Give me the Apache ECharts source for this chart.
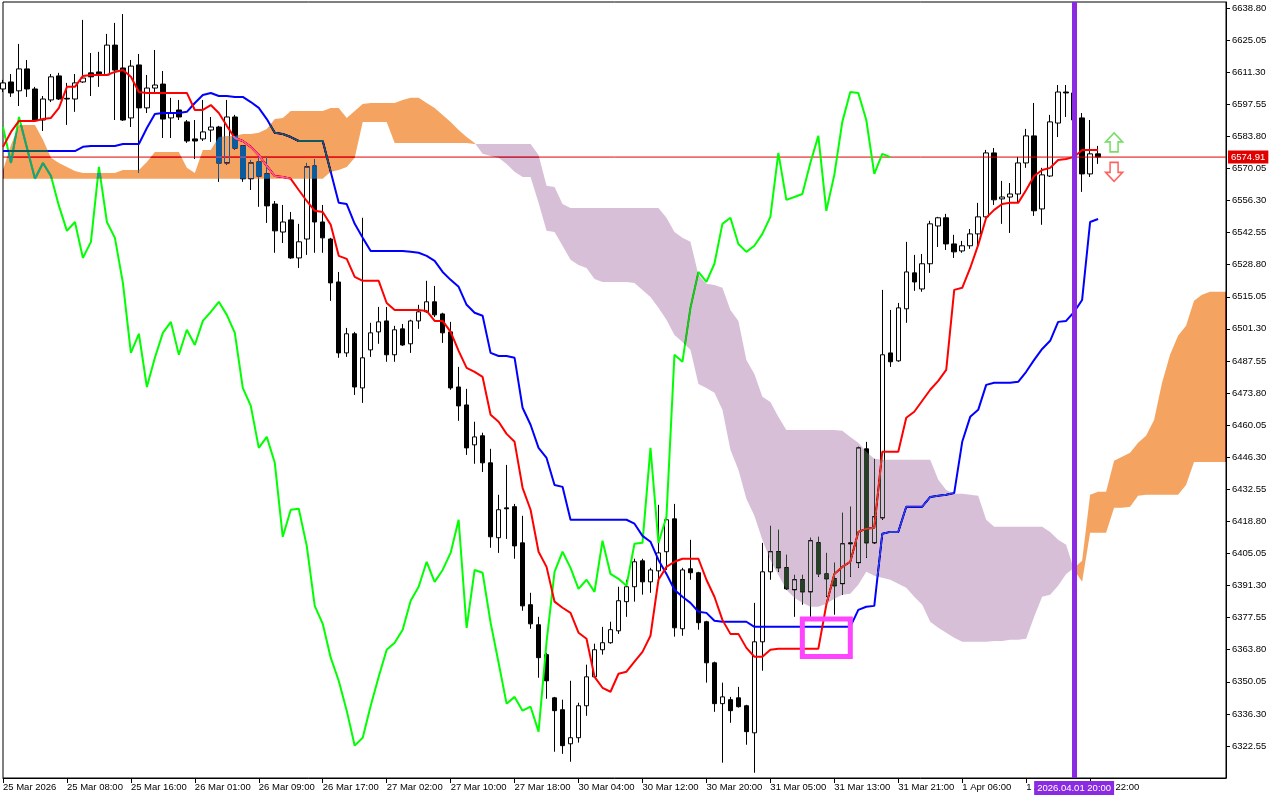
<!DOCTYPE html>
<html><head><meta charset="utf-8">
<script src="https://cdn.jsdelivr.net/npm/echarts@6/dist/echarts.min.js"></script>
<style>html,body{margin:0;padding:0;background:#fff}#chart{width:1280px;height:800px}</style>
</head><body><div id="chart"></div>
<script>
const FONT = 'Liberation Sans, Arial, sans-serif';
const barCount = 154;
const tickLabels = ['25 Mar 2026','25 Mar 08:00','25 Mar 16:00','26 Mar 01:00','26 Mar 09:00','26 Mar 17:00',
  '27 Mar 02:00','27 Mar 10:00','27 Mar 18:00','30 Mar 04:00','30 Mar 12:00','30 Mar 20:00','31 Mar 05:00',
  '31 Mar 13:00','31 Mar 21:00','1 Apr 06:00','1 Apr 14:00','1 Apr 22:00'];
const yTickValues = [6322.55,6336.30,6350.05,6363.80,6377.55,6391.30,6405.05,6418.80,6432.55,6446.30,6460.05,
  6473.80,6487.55,6501.30,6515.05,6528.80,6542.55,6556.30,6570.05,6583.80,6597.55,6611.30,6625.05,6638.80];
const lastPrice = 6574.91;
const markedBar = 134;
const markedBarLabel = '2026.04.01 20:00';
const boxCorners = [[100, 6377.0], [106, 6360.9]];
const upArrow = [139, 6581.2];
const downArrow = [139, 6568.6];

const opens = [6604.1,6607.1,6603.3,6612.7,6604.1,6590.8,6599.4,6609.7,6600.1,6599.8,
6607.1,6611.0,6611.4,6610.1,6622.9,6613.1,6591.7,6614.4,6596.0,6604.5,
6606.2,6591.7,6595.1,6590.0,6582.7,6582.7,6586.5,6587.8,6572.4,6592.1,
6579.7,6565.6,6572.8,6567.7,6554.8,6542.8,6548.0,6531.7,6539.8,6571.1,
6547.1,6539.8,6521.4,6491.0,6499.2,6476.0,6492.3,6500.0,6504.7,6490.2,
6501.3,6494.9,6504.7,6508.6,6512.9,6507.7,6500.0,6476.4,6468.7,6451.6,
6455.5,6443.9,6411.8,6424.6,6425.1,6409.6,6383.1,6374.5,6361.7,6343.2,
6338.1,6323.5,6326.1,6339.8,6352.2,6363.8,6366.8,6371.9,6384.4,6390.8,
6401.9,6392.9,6397.6,6405.8,6419.9,6372.8,6398.5,6396.8,6375.8,6358.2,
6340.7,6342.4,6343.2,6339.8,6328.2,6367.2,6397.2,6405.8,6398.9,6389.5,
6393.8,6388.6,6409.6,6396.3,6394.2,6392.1,6409.2,6401.1,6449.9,6409.6,
6420.3,6491.0,6487.6,6509.9,6525.3,6518.4,6529.2,6545.4,6548.9,6537.7,
6534.7,6536.9,6542.0,6549.3,6576.7,6557.0,6557.8,6559.1,6572.4,6584.0,
6552.7,6566.8,6589.5,6602.8,6602.4,6591.7,6567.7,6576.3];
const closes = [6606.7,6602.4,6612.7,6604.1,6590.8,6599.8,6609.3,6599.8,6599.8,6606.7,
6608.8,6609.3,6610.1,6622.9,6612.2,6590.8,6613.9,6596.0,6604.5,6605.8,
6591.2,6593.8,6592.1,6581.8,6581.8,6585.7,6587.8,6572.4,6592.1,6578.8,
6565.6,6572.4,6566.8,6554.0,6543.3,6547.1,6531.7,6538.6,6570.7,6547.1,
6540.3,6521.0,6491.0,6499.2,6476.4,6488.9,6499.6,6504.3,6490.2,6500.9,
6494.4,6504.7,6508.6,6512.9,6507.3,6499.6,6476.0,6468.3,6450.3,6455.0,
6443.9,6412.2,6423.8,6424.2,6408.3,6382.6,6374.9,6360.4,6350.5,6337.7,
6322.7,6326.1,6339.8,6352.2,6363.8,6366.8,6372.4,6384.8,6390.8,6401.5,
6392.9,6398.0,6405.3,6419.5,6373.2,6398.0,6396.8,6375.4,6358.2,6340.7,
6343.6,6337.7,6339.4,6328.7,6367.2,6397.2,6405.8,6398.9,6389.9,6393.8,
6388.6,6410.5,6396.3,6394.2,6391.2,6409.2,6409.6,6450.3,6409.6,6420.8,
6490.2,6487.2,6510.3,6525.7,6521.4,6529.2,6546.3,6548.9,6537.7,6534.3,
6536.9,6542.0,6549.3,6576.7,6556.6,6557.8,6559.1,6572.4,6584.0,6551.9,
6567.3,6590.0,6602.8,6602.4,6590.8,6567.7,6576.3,6574.91];
const lows = [6602.8,6600.7,6596.8,6600.7,6590.4,6586.1,6598.5,6599.4,6588.7,6594.3,
6606.7,6601.1,6605.0,6609.7,6590.8,6590.4,6587.8,6568.1,6593.8,6602.4,
6583.1,6583.1,6590.8,6581.0,6574.1,6581.8,6581.4,6564.3,6571.6,6578.0,
6564.3,6560.8,6553.6,6546.7,6533.9,6538.1,6531.3,6527.4,6533.0,6533.9,
6533.9,6513.3,6488.9,6489.3,6473.0,6469.6,6489.3,6494.9,6487.2,6487.2,
6494.0,6491.0,6501.3,6508.2,6506.4,6495.3,6475.2,6461.9,6447.3,6443.5,
6440.0,6407.5,6405.3,6411.3,6402.8,6380.5,6372.8,6351.8,6342.8,6320.1,
6319.2,6315.8,6324.0,6335.5,6351.8,6361.7,6366.4,6370.6,6377.9,6384.4,
6387.4,6388.2,6393.8,6398.0,6369.4,6369.8,6393.8,6372.4,6349.7,6337.2,
6315.4,6332.5,6339.0,6323.1,6311.1,6354.8,6393.8,6397.2,6389.5,6377.9,
6383.1,6377.9,6395.1,6386.5,6378.8,6387.4,6395.1,6398.9,6403.2,6409.2,
6419.5,6485.0,6487.2,6503.9,6517.6,6517.2,6525.3,6536.4,6535.1,6531.7,
6533.9,6535.6,6536.9,6548.9,6554.4,6546.3,6542.4,6555.3,6570.3,6549.7,
6545.9,6566.4,6583.5,6592.1,6587.4,6560.0,6566.4,6572.0];
const highs = [6608.0,6610.5,6623.4,6616.5,6605.0,6601.1,6610.5,6611.0,6606.7,6610.5,
6633.7,6619.5,6620.0,6627.7,6632.4,6636.2,6616.5,6619.1,6610.1,6620.8,
6611.8,6600.3,6599.4,6590.8,6590.8,6599.4,6592.1,6588.3,6599.4,6593.0,
6580.1,6573.7,6575.0,6575.0,6556.1,6554.4,6551.4,6546.3,6572.4,6574.1,
6554.4,6540.3,6525.7,6501.7,6500.0,6548.9,6503.9,6510.7,6510.7,6502.6,
6503.4,6505.2,6511.6,6521.9,6519.7,6508.2,6504.3,6485.0,6475.6,6461.5,
6456.8,6449.9,6430.2,6443.0,6426.3,6421.2,6388.2,6377.9,6362.5,6343.6,
6342.4,6350.5,6341.1,6357.4,6366.4,6373.6,6375.8,6390.8,6393.8,6402.8,
6402.8,6398.9,6425.9,6425.9,6426.3,6398.9,6410.9,6397.2,6376.2,6358.7,
6349.7,6343.6,6347.9,6340.2,6383.9,6409.6,6416.9,6415.2,6404.5,6395.9,
6395.9,6411.8,6412.2,6405.3,6401.1,6422.5,6425.1,6450.8,6452.9,6445.6,
6518.0,6509.4,6512.4,6538.6,6533.0,6533.4,6547.6,6549.3,6550.6,6541.6,
6539.0,6544.1,6555.3,6578.0,6578.8,6564.7,6563.8,6575.0,6587.0,6598.1,
6570.3,6593.0,6605.8,6605.8,6604.5,6593.8,6590.8,6579.7];

const tenkan = [6579.3,6585.7,6590.4,6590.4,6590.4,6591.2,6591.7,6596.0,6605.0,6605.0,
6609.7,6610.1,6610.1,6610.1,6611.4,6612.2,6609.3,6602.8,6602.4,6602.4,
6602.4,6602.4,6602.4,6602.4,6595.1,6595.1,6597.2,6593.8,6588.3,6583.1,
6581.8,6579.3,6575.8,6571.1,6566.8,6566.4,6565.6,6560.8,6556.1,6551.9,
6551.4,6545.9,6532.6,6531.3,6523.6,6521.9,6521.9,6521.9,6512.4,6509.4,
6509.4,6509.4,6509.4,6509.0,6504.7,6504.7,6500.0,6491.9,6484.6,6482.9,
6480.7,6464.5,6461.5,6456.3,6452.9,6433.2,6423.8,6405.8,6399.3,6384.4,
6381.8,6379.6,6371.1,6368.5,6352.2,6347.5,6345.8,6353.5,6354.4,6358.7,
6362.9,6369.8,6393.8,6399.3,6401.5,6402.8,6402.8,6402.8,6393.8,6386.5,
6376.6,6370.6,6370.6,6364.6,6360.8,6360.8,6363.8,6364.2,6364.2,6364.2,
6364.2,6364.2,6364.2,6383.1,6396.3,6399.3,6401.5,6414.3,6415.6,6416.1,
6448.6,6448.6,6448.6,6463.2,6465.8,6470.5,6475.2,6479.0,6483.7,6518.0,
6518.9,6527.4,6537.3,6548.9,6552.3,6554.8,6555.3,6555.3,6560.8,6566.8,
6569.4,6570.3,6573.7,6574.1,6575.0,6578.0,6578.0,6578.0];
const kijun = [6577.5,6577.5,6577.5,6577.5,6577.5,6577.5,6577.5,6577.5,6577.5,6577.5,
6579.3,6579.7,6579.7,6579.7,6579.7,6580.5,6580.5,6580.5,6587.4,6593.4,
6593.8,6593.8,6593.8,6594.3,6598.1,6601.5,6602.4,6601.1,6601.1,6600.7,
6600.7,6598.5,6596.0,6591.2,6585.3,6584.8,6583.5,6581.8,6581.8,6581.8,
6581.8,6568.6,6555.3,6554.8,6546.3,6540.3,6534.7,6534.7,6534.7,6534.7,
6534.7,6534.3,6533.9,6532.6,6530.4,6525.7,6522.3,6519.3,6511.6,6508.2,
6506.9,6491.0,6489.7,6489.7,6488.9,6467.5,6460.2,6450.3,6446.0,6434.4,
6433.6,6419.5,6419.5,6419.5,6419.5,6419.5,6419.5,6419.5,6419.5,6417.8,
6412.6,6410.1,6402.3,6396.3,6389.5,6386.5,6383.9,6380.1,6379.6,6376.2,
6375.8,6375.8,6375.8,6375.8,6373.6,6373.6,6373.6,6373.6,6373.6,6373.6,
6373.6,6373.6,6373.6,6373.6,6373.6,6373.6,6373.6,6380.9,6382.2,6382.6,
6413.5,6414.3,6414.3,6425.1,6425.1,6425.1,6429.3,6429.8,6430.2,6431.0,
6452.9,6463.6,6466.6,6477.3,6478.2,6478.2,6478.2,6478.6,6482.9,6488.0,
6492.7,6496.2,6504.3,6504.7,6508.6,6513.7,6547.1,6548.4];
const chikou = [6587.8,6572.4,6592.1,6578.8,6565.6,6572.4,6566.8,6554.0,6543.3,6547.1,
6531.7,6538.6,6570.7,6547.1,6540.3,6521.0,6491.0,6499.2,6476.4,6488.9,
6499.6,6504.3,6490.2,6500.9,6494.4,6504.7,6508.6,6512.9,6507.3,6499.6,
6476.0,6468.3,6450.3,6455.0,6443.9,6412.2,6423.8,6424.2,6408.3,6382.6,
6374.9,6360.4,6350.5,6337.7,6322.7,6326.1,6339.8,6352.2,6363.8,6366.8,
6372.4,6384.8,6390.8,6401.5,6392.9,6398.0,6405.3,6419.5,6373.2,6398.0,
6396.8,6375.4,6358.2,6340.7,6343.6,6337.7,6339.4,6328.7,6367.2,6397.2,
6405.8,6398.9,6389.9,6393.8,6388.6,6410.5,6396.3,6394.2,6391.2,6409.2,
6409.6,6450.3,6409.6,6420.8,6490.2,6487.2,6510.3,6525.7,6521.4,6529.2,
6546.3,6548.9,6537.7,6534.3,6536.9,6542.0,6549.3,6576.7,6556.6,6557.8,
6559.1,6572.4,6584.0,6551.9,6567.3,6590.0,6602.8,6602.4,6590.8,6567.7,
6576.3,6574.91];
const spanA = [6569.4,6580.1,6588.7,6588.7,6588.7,6582.3,6574.6,6572.4,6570.7,6569.0,
6568.1,6568.1,6568.1,6568.1,6568.1,6569.4,6569.4,6569.4,6572.8,6577.1,
6577.1,6577.1,6577.1,6570.3,6568.1,6578.0,6578.0,6583.5,6584.0,6584.0,
6584.8,6584.8,6585.3,6587.0,6591.2,6591.7,6594.7,6594.7,6594.7,6594.7,
6594.7,6596.0,6596.0,6591.7,6594.7,6597.7,6598.1,6598.1,6598.1,6598.1,
6599.4,6600.3,6600.3,6598.1,6596.0,6593.0,6590.0,6586.5,6583.5,6581.0,
6576.3,6575.4,6574.6,6572.0,6568.6,6566.4,6566.4,6555.3,6543.3,6542.8,
6536.9,6530.9,6528.7,6527.4,6522.7,6521.4,6521.4,6521.4,6521.4,6521.0,
6518.0,6515.0,6510.3,6505.2,6498.7,6495.7,6492.3,6477.7,6476.0,6473.9,
6466.6,6449.5,6440.9,6428.5,6421.2,6410.9,6402.3,6395.9,6389.5,6386.1,
6383.9,6382.2,6382.2,6383.5,6385.6,6387.4,6387.8,6391.6,6397.2,6395.5,
6394.6,6393.8,6392.1,6390.4,6386.5,6383.1,6375.8,6373.2,6371.1,6368.9,
6367.2,6367.2,6367.2,6367.2,6367.6,6367.6,6368.1,6368.1,6368.5,6377.9,
6386.5,6387.4,6391.2,6396.3,6398.9,6401.9,6430.2,6431.5,6431.5,6444.8,
6446.5,6448.2,6452.5,6455.5,6462.3,6478.2,6490.2,6498.3,6502.6,6513.3,
6515.9,6517.2,6517.2,6517.2];
const spanB = [6565.6,6565.6,6565.6,6565.6,6565.6,6565.6,6565.6,6565.6,6565.6,6565.6,
6565.6,6565.6,6565.6,6565.6,6565.6,6565.6,6565.6,6565.6,6565.6,6565.6,
6565.6,6565.6,6565.6,6565.6,6565.6,6565.6,6565.6,6565.6,6565.6,6565.6,
6565.6,6565.6,6565.6,6565.6,6565.6,6565.6,6565.6,6565.6,6565.6,6565.6,
6565.6,6568.6,6569.4,6570.7,6574.6,6590.0,6590.0,6590.0,6590.0,6581.0,
6581.0,6581.0,6581.0,6581.0,6581.0,6581.0,6581.0,6581.0,6581.0,6580.5,
6580.5,6580.5,6580.5,6580.5,6580.5,6580.5,6580.5,6575.8,6562.6,6562.1,
6554.8,6553.1,6553.1,6553.1,6553.1,6553.1,6553.1,6553.1,6553.1,6553.1,
6553.1,6553.1,6553.1,6548.9,6542.8,6540.3,6538.6,6524.4,6520.6,6520.1,
6518.9,6509.4,6504.7,6488.0,6482.0,6472.2,6470.0,6463.6,6458.0,6458.0,
6458.0,6458.0,6458.0,6458.0,6458.0,6457.6,6455.0,6452.5,6448.6,6445.6,
6445.2,6445.2,6445.2,6445.2,6445.2,6445.2,6445.2,6436.6,6432.3,6430.6,
6430.6,6430.2,6429.8,6419.5,6416.5,6416.5,6416.5,6416.5,6416.5,6416.5,
6416.5,6414.3,6410.9,6408.8,6398.0,6392.9,6413.9,6413.9,6413.9,6424.6,
6424.6,6425.1,6429.8,6430.2,6430.2,6430.2,6430.2,6430.2,6434.4,6444.3,
6444.3,6444.3,6444.3,6444.3];

const categories = Array.from({length: barCount}, (_, i) => String(i));
const candleData = opens.map((o, i) => [o, closes[i], lows[i], highs[i]]);

// split the cloud into runs of the same colour, cutting at crossings
function buildRuns() {
  const runs = [];
  let cur = null;
  for (let i = 0; i < spanA.length; i++) {
    const bull = spanA[i] >= spanB[i];
    const pt = {i: i, f: 0, a: spanA[i], b: spanB[i]};
    if (!cur) { cur = {bull: bull, pts: [pt]}; continue; }
    if (bull === cur.bull) { cur.pts.push(pt); continue; }
    const d0 = spanA[i - 1] - spanB[i - 1], d1 = spanA[i] - spanB[i];
    const t = d0 / (d0 - d1);
    const v = spanA[i - 1] + t * (spanA[i] - spanA[i - 1]);
    const cross = {i: i - 1, f: t, a: v, b: v};
    cur.pts.push(cross);
    runs.push(cur);
    cur = {bull: bull, pts: [cross, pt]};
  }
  runs.push(cur);
  return runs;
}
const cloudRuns = buildRuns();
// colours are the inverse of SandyBrown / Thistle, drawn with a difference blend (XOR-like, as in MT4)
const BULL_MASK = '#0b5b9f', BEAR_MASK = '#274027';

function renderCloud(params, api) {
  const toPx = (p, v) => {
    const c0 = api.coord([p.i, v]);
    if (!p.f) return c0;
    const c1 = api.coord([p.i + 1, v]);
    return [c0[0] + p.f * (c1[0] - c0[0]), c0[1]];
  };
  const children = cloudRuns.map(run => {
    const top = run.pts.map(p => toPx(p, p.a));
    const bot = run.pts.slice().reverse().map(p => toPx(p, p.b));
    return {type: 'polygon', shape: {points: top.concat(bot)},
      style: {fill: run.bull ? BULL_MASK : BEAR_MASK}};
  });
  return {type: 'group', children: children};
}

const UP_PATH = 'path://M8.5,0 L17,9 L12.5,9 L12.5,19 L4.5,19 L4.5,9 L0,9 Z';
const DOWN_PATH = 'path://M4.5,0 L12.5,0 L12.5,10 L17,10 L8.5,19 L0,10 L4.5,10 Z';
const tickShown = i => i % 8 === 0 && i / 8 < tickLabels.length;
const PRICE_RED = '#e00000';

const chart = echarts.init(document.getElementById('chart'), null, {renderer: 'canvas'});
chart.setOption({
  backgroundColor: '#ffffff',
  animation: false,
  textStyle: {fontFamily: FONT},
  grid: {left: 2, right: 54, top: 2, bottom: 22, show: true, borderColor: '#000', borderWidth: 1,
    backgroundColor: 'transparent'},
  xAxis: {
    type: 'category', data: categories, boundaryGap: false,
    axisLine: {show: true, lineStyle: {color: '#000', width: 1}},
    axisTick: {show: true, length: 5, interval: tickShown, lineStyle: {color: '#000'}},
    axisLabel: {show: true, interval: tickShown, align: 'left', margin: 4, fontSize: 9.5,
      color: '#000', fontFamily: FONT,
      formatter: (v, i) => tickLabels[i / 8] || ''},
    splitLine: {show: false}
  },
  yAxis: {
    type: 'value', position: 'right', min: 6308.84, max: 6641.37,
    axisLine: {show: true, lineStyle: {color: '#000', width: 1}},
    axisTick: {show: true, length: 4, customValues: yTickValues, lineStyle: {color: '#000'}},
    axisLabel: {show: true, customValues: yTickValues, margin: 6, fontSize: 9.5, color: '#000',
      fontFamily: FONT, formatter: v => Number(v).toFixed(2)},
    splitLine: {show: false}
  },
  series: [
    {
      type: 'candlestick', data: candleData, barWidth: 5, clip: false, z: 2, silent: true,
      itemStyle: {color: '#ffffff', color0: '#000000', borderColor: '#000000', borderColor0: '#000000', borderWidth: 1}
    },
    {type: 'line', data: [[0, lastPrice], [barCount - 1, lastPrice]], symbol: 'none', z: 3, silent: true,
      lineStyle: {color: PRICE_RED, width: 1}, itemStyle: {color: PRICE_RED},
      endLabel: {show: true, formatter: lastPrice.toFixed(2), color: '#fff', backgroundColor: PRICE_RED,
        padding: [2, 3, 1, 3], fontSize: 9.5, fontFamily: FONT, distance: 2}},
    {type: 'line', data: chikou, symbol: 'none', z: 3, silent: true,
      lineStyle: {color: '#00ff00', width: 2}, itemStyle: {color: '#00ff00'}},
    {type: 'line', data: kijun, symbol: 'none', z: 3, silent: true,
      lineStyle: {color: '#0000ff', width: 2}, itemStyle: {color: '#0000ff'}},
    {type: 'line', data: tenkan, symbol: 'none', z: 3, silent: true,
      lineStyle: {color: '#ff0000', width: 2}, itemStyle: {color: '#ff0000'}},
    {type: 'custom', data: [[0, spanA[0]]], encode: {x: 0, y: 1}, renderItem: renderCloud,
      z: 6, silent: true, blendMode: 'difference'},
    {
      type: 'scatter', z: 10, silent: true,
      data: [
        {value: upArrow, symbol: UP_PATH, symbolSize: [17, 19],
          itemStyle: {color: '#ffffff', borderColor: '#52d63c', borderWidth: 1.6}},
        {value: downArrow, symbol: DOWN_PATH, symbolSize: [17, 19],
          itemStyle: {color: '#ffffff', borderColor: '#ff3a3a', borderWidth: 1.6}}
      ],
      markLine: {
        silent: true, symbol: 'none', z: 10, animation: false,
        data: [{xAxis: markedBar,
          lineStyle: {color: '#8a2be2', width: 5, type: 'solid'},
          label: {show: true, position: 'start', formatter: markedBarLabel, color: '#fff',
            backgroundColor: '#8a2be2', padding: [2, 3, 2, 3], fontSize: 9.5, fontFamily: FONT, distance: 3}}]
      },
      markArea: {
        silent: true, z: 10,
        itemStyle: {color: 'rgba(0,0,0,0)', borderColor: '#ff44ff', borderWidth: 5},
        data: [[{coord: boxCorners[0]}, {coord: boxCorners[1]}]]
      }
    }
  ]
});
</script>
</body></html>
